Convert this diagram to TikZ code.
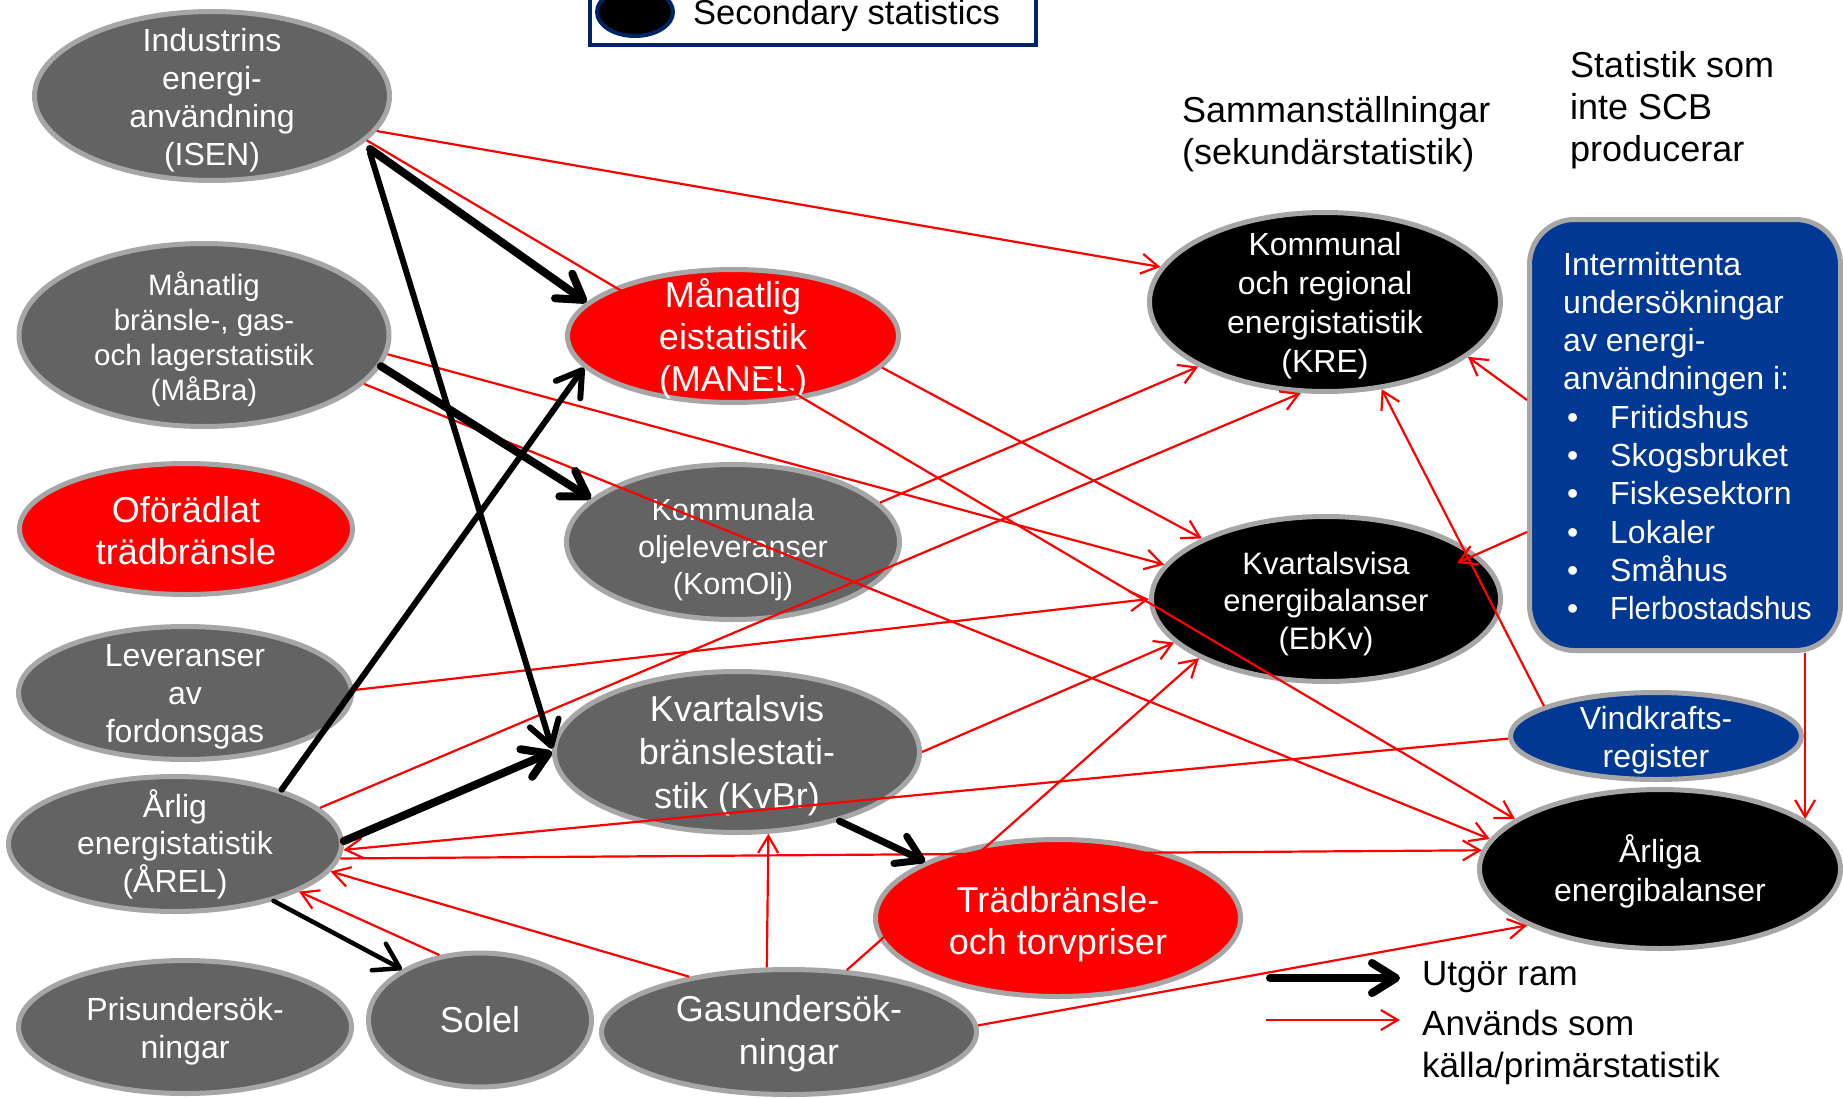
\documentclass[tikz,border=0pt]{standalone}
\usepackage{fontspec}
\usepackage{graphicx}
\setmainfont{Liberation Sans}
\usetikzlibrary{arrows.meta,shapes.geometric,calc}

\definecolor{ngray}{RGB}{99,99,99}
\definecolor{nborder}{RGB}{166,166,166}
\definecolor{nred}{RGB}{255,0,0}
\definecolor{nblue}{RGB}{0,56,147}
\definecolor{navy}{RGB}{0,36,100}

\newcommand{\fsz}[2]{\fontsize{#1}{#2}\selectfont}
\newcommand{\mybul}{\makebox[47pt][l]{\hspace{4pt}•}}

\begin{document}
\begin{tikzpicture}[x=1pt,y=-1pt,
  ell/.style={ellipse, draw=nborder, line width=5pt, inner sep=0pt},
  grayell/.style={ell, fill=ngray},
  redell/.style={ell, fill=nred},
  blackell/.style={ell, fill=black},
  blueell/.style={ell, fill=nblue},
  lbl/.style={text=white, align=center, inner sep=0pt},
  hdr/.style={text=black, align=left, inner sep=0pt},
  ram/.style={draw=black, line width=#1, line cap=round,
    -{Straight Barb[length=24pt,width=30pt,round]}},
  src/.style={draw=nred, line width=2.2pt,
    -{Straight Barb[length=17pt,width=20pt]}},
]
\fill[white] (0,0) rectangle (1843,1097);
\useasboundingbox (0,0) rectangle (1843,1097);

% ---------- legend (top) ----------
\node[draw=navy, line width=3.5pt, minimum width=446pt, minimum height=100pt, inner sep=0pt] (legbox) at (813,-5) {};
\node[ell, fill=black, draw=navy, line width=4pt, minimum width=76pt, minimum height=48pt] (legell) at (635,12) {};
\node[anchor=base west, inner sep=0pt, font=\fsz{34.5}{40}] (legtxt) at (693,25) {Secondary statistics};

% ---------- nodes ----------
\node[grayell, minimum width=355pt, minimum height=169pt] (isen) at (212,96) {};
\node[lbl, font=\fsz{32}{38}] (isenT) at ([yshift=-4pt]isen.center) {Industrins\\energi-\\användning\\(ISEN)};

\node[grayell, minimum width=370pt, minimum height=183pt] (mabra) at (204,335) {};
\node[lbl, font=\fsz{29.5}{35}] (mabraT) at ([yshift=-4pt]mabra.center) {Månatlig\\bränsle-, gas-\\och lagerstatistik\\(MåBra)};

\node[redell, minimum width=331pt, minimum height=133pt] (manel) at (733,336) {};
\node[lbl, font=\fsz{36}{42}] (manelT) at ([yshift=-3pt]manel.center) {Månatlig\\eistatistik\\(MANEL)};

\node[redell, minimum width=333pt, minimum height=131pt] (ofor) at (186,529) {};
\node[lbl, font=\fsz{36}{42}] (oforT) at ([yshift=-2pt]ofor.center) {Oförädlat\\trädbränsle};

\node[grayell, minimum width=333pt, minimum height=155pt] (komolj) at (733,542) {};
\node[lbl, font=\fsz{30.5}{37}] (komoljT) at ([yshift=-8pt]komolj.center) {Kommunala\\oljeleveranser\\(KomOlj)};

\node[grayell, minimum width=333pt, minimum height=133pt] (lev) at (185,693) {};
\node[lbl, font=\fsz{32}{38}] (levT) at ([yshift=-3.5pt]lev.center) {Leveranser\\av\\fordonsgas};

\node[grayell, minimum width=365pt, minimum height=161pt] (kvbr) at (737,752) {};
\node[lbl, font=\fsz{36}{43.5}] (kvbrT) at ([yshift=-3.5pt]kvbr.center) {Kvartalsvis\\bränslestati-\\stik (KvBr)};

\node[grayell, minimum width=333pt, minimum height=135pt] (arel) at (175,844) {};
\node[lbl, font=\fsz{32}{37.6}] (arelT) at (arel) {Årlig\\energistatistik\\(ÅREL)};

\node[grayell, minimum width=333pt, minimum height=133pt] (pris) at (185,1027) {};
\node[lbl, font=\fsz{32}{38}] (prisT) at ([yshift=-4pt]pris.center) {Prisundersök-\\ningar};

\node[grayell, minimum width=223pt, minimum height=134pt] (solel) at (480,1020) {};
\node[lbl, font=\fsz{36}{42}] (solelT) at (solel) {Solel};

\node[grayell, minimum width=375pt, minimum height=125pt] (gas) at (789,1032) {};
\node[lbl, font=\fsz{36}{43}] (gasT) at ([yshift=-2pt]gas.center) {Gasundersök-\\ningar};

\node[redell, minimum width=365pt, minimum height=157pt] (trad) at (1058,918) {};
\node[lbl, font=\fsz{36}{42.5}] (tradT) at ([yshift=-6pt]trad.center) {Trädbränsle-\\och torvpriser};

\node[blackell, minimum width=351pt, minimum height=179pt] (kre) at (1325,302) {};
\node[lbl, font=\fsz{32}{39}] (kreT) at ([yshift=-4pt]kre.center) {Kommunal\\och regional\\energistatistik\\(KRE)};

\node[blackell, minimum width=349pt, minimum height=165pt] (ebkv) at (1326,599) {};
\node[lbl, font=\fsz{31}{37.5}] (ebkvT) at ([yshift=-4.5pt]ebkv.center) {Kvartalsvisa\\energibalanser\\(EbKv)};

\node[blackell, minimum width=361pt, minimum height=159pt] (arliga) at (1660,869) {};
\node[lbl, font=\fsz{32}{38.5}] (arligaT) at ([yshift=-2.5pt]arliga.center) {Årliga\\energibalanser};

\node[blueell, minimum width=291pt, minimum height=87pt] (vind) at (1656,736) {};
\node[lbl, font=\fsz{32}{38}] (vindT) at ([yshift=-4.5pt]vind.center) {Vindkrafts-\\register};

\node[draw=nborder, line width=5pt, fill=nblue, rounded corners=45pt, minimum width=311pt, minimum height=431pt, inner sep=0pt] (box) at (1685,435) {};
\node[anchor=west, text=white, align=left, inner sep=0pt, font=\fsz{32}{38.3}] (boxT) at (1563,436)
 {Intermittenta\\undersökningar\\av energi-\\användningen i:\\\mybul Fritidshus\\\mybul Skogsbruket\\\mybul Fiskesektorn\\\mybul Lokaler\\\mybul Småhus\\\mybul \scalebox{0.92}[1]{Flerbostadshus}};

% ---------- headers ----------
\node[hdr, anchor=west, font=\fsz{36}{42}] (hdr1) at (1182,134) {Sammanställningar\\(sekundärstatistik)};
\node[hdr, anchor=west, font=\fsz{36}{42}] (hdr2) at (1570,110) {Statistik som\\inte SCB\\producerar};

% ---------- red connectors (source) ----------
\draw[src] (isen.-12) -- (kre.168);
\draw[src] (isen.-16) -- (arliga.161);
\draw[src] (mabra.-6) -- (ebkv.168);
\draw[src] (mabra.-17) -- (arliga.170);
\draw[src] (manel.-12) -- (ebkv.154);
\draw[src] (komolj.15) -- (kre.207);
\draw[src] (arel.14) -- (kre.255);
\draw[src] (lev.1) -- (ebkv.180);
\draw[src] (kvbr.0) -- (ebkv.196);
\draw[src] (gas.47) -- (ebkv.205);
\draw[src] ([yshift=-97pt]box.west) -- ($(ebkv.center)+(131,-36)$);
\draw[src] ([yshift=35pt]box.west) -- (kre.-21);
\draw[src] (arliga.19.5 |- box.south) -- (arliga.19.5);
\draw[src] (vind.165) -- (kre.-57);
\draw[src] (vind.181) -- (arel.-2);
\draw[src] (arel.-5) -- (arliga.174);
\draw[src] (gas.2) -- (arliga.203);
\draw[src] (gas.109) -- (kvbr.-69.5);
\draw[src] (gas.151) -- (arel.-10);
\draw[src] (solel.122) -- (arel.-21);

% ---------- black connectors (frame) ----------
\draw[ram=8pt] ($(isen.center)+(158,53)$) -- (manel.167);
\draw[ram=6pt] ($(isen.center)+(158,57)$) -- (kvbr.179);
\draw[ram=8pt] (mabra.-10) -- (komolj.163);
\draw[ram=6pt] (arel.27) -- (manel.192);
\draw[ram=8pt] (arel.1) -- (kvbr.180);
\draw[ram=7pt] (kvbr.-34) -- (trad.157);
\draw[ram=4.5pt] (arel.-30) -- (solel.147);

% ---------- legend (bottom) ----------
\coordinate (lgA1) at (1270,978);
\coordinate (lgA2) at (1400,978);
\draw[ram=8pt] (lgA1) -- (lgA2);
\coordinate (lgB1) at (1266,1020);
\coordinate (lgB2) at (1400,1020);
\draw[src] (lgB1) -- (lgB2);
\node[anchor=base west, inner sep=0pt, font=\fsz{35}{42}] (lgT1) at (1422,985) {Utgör ram};
\node[anchor=base west, inner sep=0pt, font=\fsz{35}{42}] (lgT2) at (1422,1035) {Används som};
\node[anchor=base west, inner sep=0pt, font=\fsz{35}{42}] (lgT3) at (1422,1077) {källa/primärstatistik};
\end{tikzpicture}
\end{document}
